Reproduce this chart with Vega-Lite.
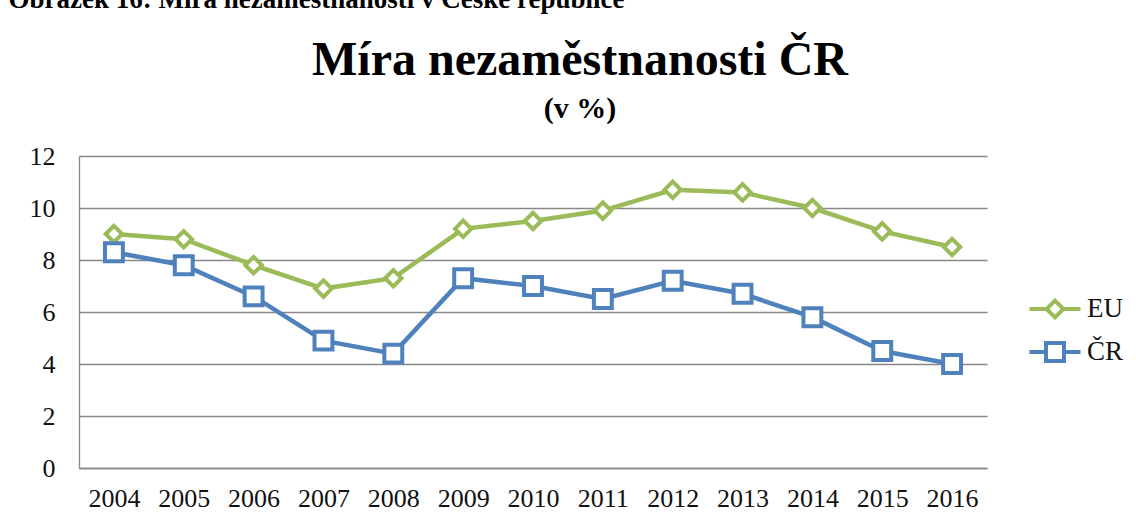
{
  "$schema": "https://vega.github.io/schema/vega-lite/v6.json",
  "width": 908,
  "height": 312,
  "autosize": {"type": "none"},
  "padding": {"left": 79, "top": 156, "right": 149, "bottom": 56},
  "background": "white",
  "title": {
    "text": "Míra nezaměstnanosti ČR",
    "subtitle": "(v %)",
    "font": "Liberation Serif",
    "fontSize": 48,
    "fontWeight": "bold",
    "color": "#000000",
    "subtitleFont": "Liberation Serif",
    "subtitleFontSize": 30,
    "subtitleFontWeight": "bold",
    "subtitleColor": "#000000",
    "subtitlePadding": 9,
    "anchor": "middle",
    "offset": 21,
    "dx": 47,
    "dy": 160
  },
  "data": {
    "values": [
      {"year": "2004", "series": "EU", "value": 9.0},
      {"year": "2005", "series": "EU", "value": 8.8},
      {"year": "2006", "series": "EU", "value": 7.8},
      {"year": "2007", "series": "EU", "value": 6.9},
      {"year": "2008", "series": "EU", "value": 7.3},
      {"year": "2009", "series": "EU", "value": 9.2},
      {"year": "2010", "series": "EU", "value": 9.5},
      {"year": "2011", "series": "EU", "value": 9.9},
      {"year": "2012", "series": "EU", "value": 10.7},
      {"year": "2013", "series": "EU", "value": 10.6},
      {"year": "2014", "series": "EU", "value": 10.0},
      {"year": "2015", "series": "EU", "value": 9.1},
      {"year": "2016", "series": "EU", "value": 8.5},
      {"year": "2004", "series": "ČR", "value": 8.3},
      {"year": "2005", "series": "ČR", "value": 7.8},
      {"year": "2006", "series": "ČR", "value": 6.6},
      {"year": "2007", "series": "ČR", "value": 4.9},
      {"year": "2008", "series": "ČR", "value": 4.4},
      {"year": "2009", "series": "ČR", "value": 7.3},
      {"year": "2010", "series": "ČR", "value": 7.0},
      {"year": "2011", "series": "ČR", "value": 6.5},
      {"year": "2012", "series": "ČR", "value": 7.2},
      {"year": "2013", "series": "ČR", "value": 6.7},
      {"year": "2014", "series": "ČR", "value": 5.8},
      {"year": "2015", "series": "ČR", "value": 4.5},
      {"year": "2016", "series": "ČR", "value": 4.0}
    ]
  },
  "encoding": {
    "x": {
      "field": "year",
      "type": "ordinal",
      "axis": {
        "title": null,
        "labelAngle": 0,
        "ticks": false,
        "domain": true,
        "domainColor": "#888888",
        "domainWidth": 1.3,
        "grid": false,
        "labelFont": "Liberation Serif",
        "labelFontSize": 26,
        "labelColor": "#111111",
        "labelPadding": 17
      }
    },
    "y": {
      "field": "value",
      "type": "quantitative",
      "scale": {"domain": [0, 12], "nice": false},
      "axis": {
        "title": null,
        "values": [0, 2, 4, 6, 8, 10, 12],
        "ticks": false,
        "domain": true,
        "domainColor": "#888888",
        "domainWidth": 1.3,
        "grid": true,
        "gridColor": "#888888",
        "gridWidth": 1.3,
        "labelFont": "Liberation Serif",
        "labelFontSize": 26,
        "labelColor": "#111111",
        "labelPadding": 24
      }
    },
    "stroke": {
      "field": "series",
      "type": "nominal",
      "scale": {"domain": ["EU", "ČR"], "range": ["#9BBB59", "#4F81BD"]},
      "legend": {
        "orient": "none",
        "legendX": 954,
        "legendY": 131,
        "title": null,
        "padding": 0,
        "symbolSize": 1600,
        "symbolStrokeWidth": 4,
        "symbolFillColor": "white",
        "labelFont": "Liberation Serif",
        "labelFontSize": 27,
        "labelColor": "#111111",
        "labelOffset": 10,
        "rowPadding": 4,
        "encode": {
          "symbols": {
            "update": {
              "shape": {"signal": "datum.value === 'EU' ? 'M-1.275,0L-0.42,0M0.42,0L1.275,0M0,-0.42L0.42,0L0,0.42L-0.42,0Z' : 'M-1.275,0L-0.45,0M0.45,0L1.275,0M-0.45,-0.45L0.45,-0.45L0.45,0.45L-0.45,0.45Z'"},
              "fill": {"value": "white"},
              "strokeWidth": {"value": 4},
              "opacity": {"value": 1}
            }
          }
        }
      }
    }
  },
  "layer": [
    {"mark": {"type": "line", "strokeWidth": 4.5}},
    {
      "transform": [{"filter": "datum.series === 'EU'"}],
      "mark": {"type": "point", "shape": "diamond", "filled": true, "fill": "white", "size": 270, "strokeWidth": 4, "opacity": 1},
      "encoding": {
        "x": {
          "field": "year",
          "type": "ordinal",
          "axis": {
            "orient": "top",
            "domain": false,
            "ticks": false,
            "labels": false,
            "grid": false,
            "title": "Obrázek 16: Míra nezaměstnanosti v České republice",
            "titleFont": "Liberation Serif",
            "titleFontSize": 27,
            "titleFontWeight": "bold",
            "titleColor": "#000000",
            "titleAnchor": "start",
            "titleAlign": "left",
            "titleBaseline": "alphabetic",
            "titleX": -71,
            "titleY": -149
          }
        }
      }
    },
    {
      "transform": [{"filter": "datum.series === 'ČR'"}],
      "mark": {"type": "point", "shape": "square", "filled": true, "fill": "white", "size": 320, "strokeWidth": 4, "opacity": 1},
      "encoding": {
        "x": {"field": "year", "type": "ordinal", "axis": null}
      }
    }
  ],
  "resolve": {"axis": {"x": "independent"}},
  "config": {"view": {"stroke": null}}
}
